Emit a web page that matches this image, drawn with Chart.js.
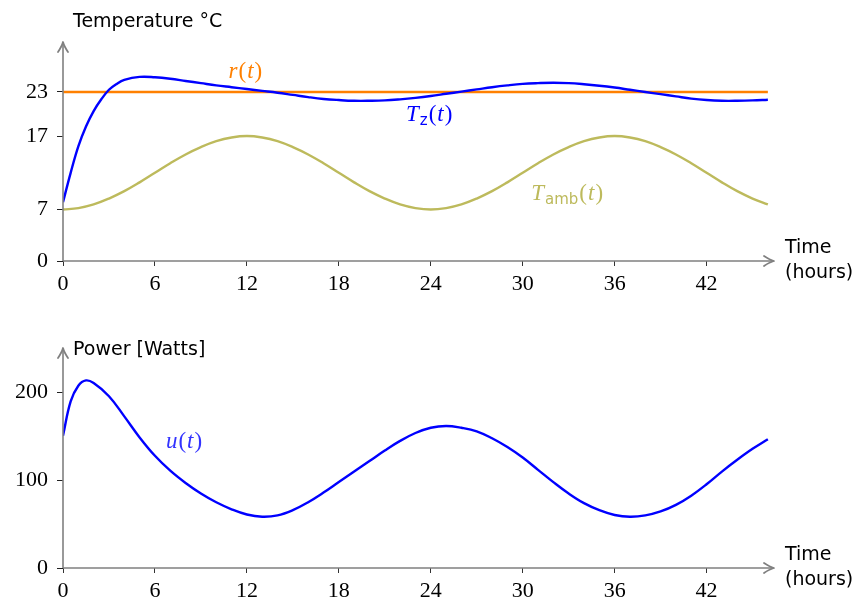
<!DOCTYPE html>
<html>
<head>
<meta charset="utf-8">
<script src="https://cdn.jsdelivr.net/npm/chart.js@4"></script>
<style>
  html, body { margin: 0; padding: 0; background: #fff; }
  #wrap { position: relative; width: 856px; height: 603px; }
  canvas { position: absolute; left: 0; }
  #tempChart { top: 0; }
  #powerChart { top: 300px; }
</style>
</head>
<body>
<div id="wrap">
  <canvas id="tempChart" width="856" height="300"></canvas>
  <canvas id="powerChart" width="856" height="303"></canvas>
</div>
<script>
// time axis (hours)
const hours = [0, 1, 2, 3, 4, 5, 6, 7, 8, 9, 10, 11, 12, 13, 14, 15, 16, 17, 18, 19, 20, 21, 22, 23,
  24, 25, 26, 27, 28, 29, 30, 31, 32, 33, 34, 35, 36, 37, 38, 39, 40, 41, 42, 43, 44, 45, 46];
const timeTicks = [0, 6, 12, 18, 24, 30, 36, 42];

// zone temperature T_z(t), denser at the start where it climbs fast
const tzHours = [0, 0.5, 1, 1.5, 2, 2.5, 3, 3.5, 4, 5, 6, 7, 8, 9, 10, 11, 12, 13, 14, 15, 16, 17,
  18, 19, 20, 21, 22, 23, 24, 25, 26, 27, 28, 29, 30, 31, 32, 33, 34, 35, 36, 37, 38, 39, 40, 41,
  42, 43, 44, 45, 46];
const tzValues = [8.0, 12.0, 15.6, 18.3, 20.4, 22.0, 23.3, 24.1, 24.65, 25.05, 25.0, 24.8, 24.5,
  24.2, 23.9, 23.65, 23.4, 23.15, 22.9, 22.6, 22.3, 22.05, 21.9, 21.8, 21.8, 21.85, 22.0, 22.2,
  22.45, 22.75, 23.05, 23.35, 23.65, 23.9, 24.1, 24.2, 24.25, 24.2, 24.05, 23.85, 23.6, 23.3,
  23.0, 22.7, 22.4, 22.1, 21.9, 21.8, 21.8, 21.85, 21.95];

// ambient temperature T_amb(t)
const ambValues = [7.0, 7.2, 7.7, 8.5, 9.5, 10.7, 12.0, 13.3, 14.5, 15.5, 16.3, 16.8, 17.0,
  16.8, 16.3, 15.5, 14.5, 13.3, 12.0, 10.7, 9.5, 8.5, 7.7, 7.2, 7.0,
  7.2, 7.7, 8.5, 9.5, 10.7, 12.0, 13.3, 14.5, 15.5, 16.3, 16.8, 17.0,
  16.8, 16.3, 15.5, 14.5, 13.3, 12.0, 10.7, 9.5, 8.5, 7.7];

// reference r(t)
const refHours = [0, 46];
const refValues = [23, 23];
const tempTicks = [0, 7, 17, 23];

// heating power u(t)
const uHours = [0, 0.5, 1, 1.5, 2, 3, 4, 5, 6, 7, 8, 9, 10, 11, 12, 13, 14, 15, 16, 17, 18,
  19, 20, 21, 22, 23, 24, 25, 26, 27, 28, 29, 30, 31, 32, 33, 34, 35, 36, 37, 38, 39, 40, 41, 42,
  43, 44, 45, 46];
const uValues = [151, 190, 208, 214, 211, 196, 173, 149, 128, 111, 97, 85, 75, 67, 61, 58.5,
  60, 66, 75, 86, 98, 110, 122, 134, 145, 154, 160, 162, 160, 156, 148, 138, 126, 112, 98, 85, 74,
  66, 60.5, 58.5, 60, 64.5, 72, 82.5, 95.5, 110, 123.5, 136, 147];
const powerTicks = [0, 100, 200];

const BLUE = "#0000ff";
const ORANGE = "#ff8000";
const OLIVE = "#bdba5c";
const AXIS = "#808080";
const SERIF = "'Liberation Serif', 'DejaVu Serif', serif";
const SANS = "'DejaVu Sans', sans-serif";

function pts(xs, ys) {
  return xs.map((x, i) => ({ x: x, y: ys[i] }));
}

function line(data, color) {
  return {
    data: data,
    borderColor: color,
    borderWidth: 2.4,
    pointRadius: 0,
    fill: false,
    tension: 0.4,
  };
}

// axes with arrow heads, axis titles and the curve labels
const decoPlugin = {
  id: "deco",
  afterDraw(chart, args, opts) {
    const ctx = chart.ctx;
    const a = chart.chartArea;
    const xs = chart.scales.x;
    const ys = chart.scales.y;
    ctx.save();
    ctx.strokeStyle = AXIS;
    ctx.lineWidth = 1.6;
    ctx.lineCap = "butt";
    ctx.beginPath();
    ctx.moveTo(a.left, a.bottom);
    ctx.lineTo(a.right - 1, a.bottom);
    ctx.moveTo(a.left, a.bottom);
    ctx.lineTo(a.left, a.top + 1);
    ctx.stroke();
    // arrow heads
    ctx.lineWidth = 1.8;
    ctx.lineJoin = "round";
    ctx.lineCap = "round";
    ctx.beginPath();
    ctx.moveTo(a.right - 10, a.bottom - 5);
    ctx.quadraticCurveTo(a.right - 4, a.bottom - 1, a.right, a.bottom);
    ctx.quadraticCurveTo(a.right - 4, a.bottom + 1, a.right - 10, a.bottom + 5);
    ctx.moveTo(a.left - 5, a.top + 10);
    ctx.quadraticCurveTo(a.left - 1, a.top + 4, a.left, a.top);
    ctx.quadraticCurveTo(a.left + 1, a.top + 4, a.left + 5, a.top + 10);
    ctx.stroke();

    ctx.fillStyle = "#000";
    ctx.textAlign = "left";
    ctx.textBaseline = "alphabetic";
    ctx.font = "19px " + SANS;
    ctx.fillText(opts.yTitle, a.left + 10, a.top + opts.yTitleDy);
    ctx.fillText("Time", a.right + 11, a.bottom - 8);
    ctx.fillText("(hours)", a.right + 11, a.bottom + 17);

    (opts.labels || []).forEach((lab) => {
      let x = xs.getPixelForValue(lab.x);
      const y = ys.getPixelForValue(lab.y);
      ctx.fillStyle = lab.color;
      let w = 0;
      lab.parts.forEach((p) => {
        ctx.font = p.font;
        w += ctx.measureText(p.t).width + (p.gap || 0);
      });
      x -= w / 2;
      lab.parts.forEach((p) => {
        ctx.font = p.font;
        ctx.fillText(p.t, x, y + (p.dy || 0));
        x += ctx.measureText(p.t).width + (p.gap || 0);
      });
    });
    ctx.restore();
  },
};

const IT = "italic 23px " + SERIF;
const UP = "23px " + SERIF;
const SUB = "15px " + SANS;

function fx(name, sub) {
  const parts = [{ t: name, font: IT, gap: 1 }];
  if (sub) parts.push({ t: sub, font: SUB, dy: 4, gap: 1 });
  parts.push({ t: "(", font: UP, gap: 1 }, { t: "t", font: IT, gap: 1 }, { t: ")", font: UP });
  return parts;
}

function timeScale(height) {
  return {
    type: "linear",
    min: 0,
    max: 46.4,
    afterBuildTicks: (s) => { s.ticks = timeTicks.map((v) => ({ value: v })); },
    afterFit: (s) => { s.height = height; },
    grid: { drawOnChartArea: false, tickLength: 5, color: "#333", lineWidth: 1 },
    border: { display: false },
    ticks: { color: "#000", font: { family: SERIF, size: 22 }, padding: 5, maxRotation: 0 },
  };
}

function valueScale(max, ticks) {
  return {
    type: "linear",
    min: 0,
    max: max,
    afterBuildTicks: (s) => { s.ticks = ticks.map((v) => ({ value: v })); },
    afterFit: (s) => { s.width = 63; },
    grid: { drawOnChartArea: false, tickLength: 6, color: "#222", lineWidth: 1 },
    border: { display: false },
    ticks: { color: "#000", font: { family: SERIF, size: 22 }, padding: 9 },
  };
}

const common = {
  responsive: false,
  animation: false,
  devicePixelRatio: 1,
  events: [],
};

new Chart(document.getElementById("tempChart"), {
  type: "line",
  data: {
    datasets: [
      line(pts(hours, ambValues), OLIVE),
      line(pts(tzHours, tzValues), BLUE),
      line(pts(refHours, refValues), ORANGE),
    ],
  },
  options: {
    ...common,
    layout: { padding: { top: 42, right: 82, left: 0, bottom: 0 } },
    scales: { x: timeScale(39), y: valueScale(29.8, tempTicks) },
    plugins: {
      legend: { display: false },
      tooltip: { enabled: false },
      deco: {
        yTitle: "Temperature \u00b0C",
        yTitleDy: -15,
        labels: [
          { x: 11.9, y: 24.9, color: ORANGE, parts: fx("r") },
          { x: 23.9, y: 19.0, color: BLUE, parts: fx("T", "z") },
          { x: 32.9, y: 8.3, color: OLIVE, parts: fx("T", "amb") },
        ],
      },
    },
  },
  plugins: [decoPlugin],
});

new Chart(document.getElementById("powerChart"), {
  type: "line",
  data: {
    datasets: [line(pts(uHours, uValues), BLUE)],
  },
  options: {
    ...common,
    layout: { padding: { top: 48, right: 82, left: 0, bottom: 0 } },
    scales: { x: timeScale(35), y: valueScale(251, powerTicks) },
    plugins: {
      legend: { display: false },
      tooltip: { enabled: false },
      deco: {
        yTitle: "Power [Watts]",
        yTitleDy: 7,
        labels: [
          { x: 7.9, y: 137, color: "#3333ff", parts: fx("u") },
        ],
      },
    },
  },
  plugins: [decoPlugin],
});
</script>
</body>
</html>
